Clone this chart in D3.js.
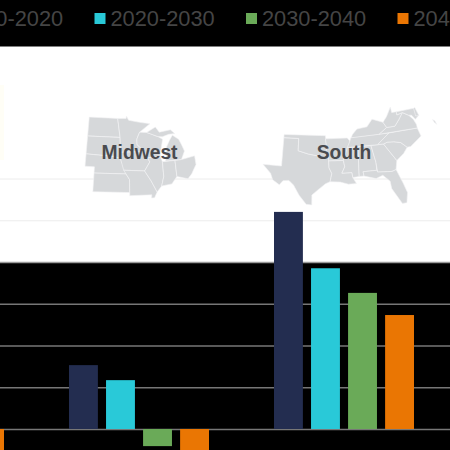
<!DOCTYPE html>
<html><head><meta charset="utf-8">
<script src="https://cdn.jsdelivr.net/npm/d3@7"></script>
<style>html,body{margin:0;padding:0;background:#fff;overflow:hidden}svg{display:block}</style>
</head><body><div id="chart"></div>
<script>
const categories = ["Northeast", "Midwest", "South"];
const seriesNames = ["2010-2020", "2020-2030", "2030-2040", "2040-2050"];
const values2010 = [null, 1.53, 5.2];
const values2020 = [null, 1.17, 3.85];
const values2030 = [null, -0.41, 3.26];
const values2040 = [-0.55, -0.55, 2.73];
const seriesColors = ["#232d50", "#29c9d8", "#6aaa58", "#ea7603"];
const gridTicks = [0, 1, 2, 3, 4, 5, 6];

const midwestStates = [
 [[-104,49],[-97.2,49],[-96.6,45.9],[-104,45.9]],
 [[-104,45.9],[-96.6,45.9],[-96.5,42.5],[-98,42.8],[-104,43]],
 [[-104,43],[-98,42.8],[-96.5,42.5],[-95.3,40],[-102,40],[-102,41],[-104,41]],
 [[-102,40],[-95.3,40],[-94.6,39.1],[-94.6,37],[-102,37]],
 [[-97.2,49],[-95.2,49],[-95.1,49.4],[-94.6,48.7],[-92,48.3],[-89.6,48],[-92.1,46.7],[-92.8,45.6],[-92.8,44.7],[-91.2,43.5],[-96.5,43.5],[-96.6,45.9]],
 [[-96.5,43.5],[-91.2,43.5],[-90.2,41.8],[-91.4,40.4],[-95.8,40.6],[-96.5,42.5]],
 [[-95.8,40.6],[-91.4,40.4],[-90.2,38.8],[-89.1,36.9],[-89.7,36],[-90.3,36],[-90.2,36.5],[-94.6,36.5],[-94.6,39.1]],
 [[-92.1,46.7],[-90.5,46.6],[-88,45.8],[-87,45.3],[-87.8,43],[-87.8,42.5],[-90.6,42.5],[-91.2,43.5],[-92.8,44.7],[-92.8,45.6]],
 [[-90.6,42.5],[-87.8,42.5],[-87.5,41.7],[-87.5,39.3],[-88.1,37.8],[-89.1,36.9],[-90.2,38.8],[-91.4,40.4],[-90.2,41.8]],
 [[-86.8,41.76],[-84.8,41.7],[-83.4,41.7],[-82.5,43],[-82.9,44],[-83.4,45],[-84.7,45.8],[-85.5,45],[-86.3,44],[-86.5,42.8]],
 [[-90.5,46.6],[-88.4,47.4],[-87.6,46.5],[-85,46.7],[-84.1,46],[-85.5,46],[-87,45.7],[-88,45.8]],
 [[-87.5,41.7],[-84.8,41.7],[-84.8,39.1],[-86,38],[-88.1,37.8],[-87.5,39.3]],
 [[-84.8,41.7],[-83.4,41.7],[-80.5,42],[-80.5,40.6],[-81.7,39.2],[-82.6,38.5],[-84.8,39.1]]
];
const southStates = [
 [[-106.6,32],[-103.06,32],[-103,36.5],[-100,36.5],[-100,34.56],[-98,34.1],[-96,33.8],[-94.04,33.6],[-94.04,33],[-94,31.9],[-93.5,31],[-93.85,29.7],[-94.7,29.4],[-96,28.5],[-97.2,27.6],[-97.2,26],[-98.2,26.1],[-99.5,27.5],[-100.6,29.1],[-101.5,29.8],[-102.6,29.7],[-103.2,29],[-104.5,29.7],[-105,30.7]],
 [[-103,37],[-94.6,37],[-94.43,35.4],[-94.48,33.64],[-96,33.8],[-98,34.1],[-100,34.56],[-100,36.5],[-103,36.5]],
 [[-94.6,36.5],[-90.2,36.5],[-89.7,36],[-90.1,35],[-91.2,33],[-94.04,33],[-94.04,33.6],[-94.48,33.64],[-94.43,35.4]],
 [[-94.04,33],[-91.2,33],[-91,32],[-91.6,31],[-89.7,31],[-89.6,30.2],[-89,29.2],[-90.5,29.2],[-92,29.6],[-93.85,29.7],[-93.5,31],[-94,31.9]],
 [[-90.3,35],[-88.2,35],[-88.4,30.3],[-89.6,30.2],[-89.7,31],[-91.6,31],[-91,32],[-91.2,33]],
 [[-88.2,35],[-85.6,35],[-85,32.3],[-85,31],[-87.6,31],[-87.5,30.3],[-88.4,30.3]],
 [[-85.6,35],[-83.1,35],[-81,32.1],[-81.4,30.7],[-82.2,30.5],[-84.9,30.7],[-85,32.3]],
 [[-87.6,31],[-85,31],[-84.9,30.7],[-82.2,30.5],[-81.4,30.7],[-80.5,28.4],[-80,26.8],[-80.4,25.2],[-81.2,25.2],[-82.7,27.8],[-82.8,29],[-84,30.1],[-85.3,29.7],[-87.5,30.3]],
 [[-83.1,35],[-82.3,35.2],[-81,35.1],[-79.7,34.8],[-78.6,33.9],[-79.5,33],[-81,32.1]],
 [[-84.3,35],[-81.7,36.6],[-75.9,36.55],[-75.5,35.2],[-76.6,34.6],[-77.9,33.9],[-78.6,33.9],[-79.7,34.8],[-81,35.1],[-82.3,35.2],[-83.1,35]],
 [[-90.3,35],[-84.3,35],[-81.7,36.6],[-88,36.6],[-89.5,36.5],[-89.7,36]],
 [[-89.4,36.5],[-83.7,36.6],[-82,37.5],[-82.6,38.4],[-84.8,39.1],[-86,38],[-88.1,37.8],[-89.1,37]],
 [[-83.7,36.6],[-75.9,36.55],[-75.9,37.1],[-76.3,38],[-77.1,38.8],[-78.3,39.4],[-79.3,38.4],[-80.3,37.5],[-82,37.5]],
 [[-82,37.5],[-80.3,37.5],[-79.3,38.4],[-78.3,39.4],[-79.5,39.2],[-79.5,39.7],[-80.5,39.7],[-80.6,40.6],[-81.7,39.2],[-82.6,38.4]],
 [[-79.5,39.7],[-75.8,39.7],[-75.05,38.45],[-75.9,37.95],[-76.5,38.7],[-77.1,38.8],[-78.3,39.4],[-79.5,39.2]],
 [[-75.8,39.7],[-75.5,39.8],[-75.05,38.45],[-75.7,38.45]]
];
const southIsland = [[-72.5,37.3],[-72.1,37],[-71.9,36.4],[-72.3,36.8]];

const seriesValues = [values2010, values2020, values2030, values2040];
const W = 450, H = 450;
const svg = d3.select("#chart").append("svg").attr("width", W).attr("height", H);

// page bands
[[0, 46.5], [262.5, H - 262.5]].forEach(([y, h]) =>
  svg.append("rect").attr("x", 0).attr("y", y).attr("width", W).attr("height", h).attr("fill", "#000"));
svg.append("rect").attr("x", 0).attr("y", 85).attr("width", 4).attr("height", 75).attr("fill", "#fffef6");

const y = d3.scaleLinear().domain([0, 6]).range([429, 178.5]);
const x0 = d3.scaleBand().domain(categories).range([-145, 470]);
const x1 = d3.scaleBand().domain(seriesNames).range([9, 149]).paddingInner(0.22).paddingOuter(0);

// gridlines
const gridAxis = d3.axisLeft(y).tickValues(gridTicks).tickSize(W).tickFormat("");
const grid = svg.append("g").attr("transform", `translate(${W},0)`).call(gridAxis);
grid.select(".domain").remove();
grid.selectAll(".tick line")
  .attr("stroke", d => d === 4 ? "#9a9a9a" : d > 4 ? "#ececec" : "#777777")
  .attr("stroke-width", d => d > 4 ? 1 : 1.7);

// maps
function drawMap(states, box, label, extra) {
  const all = states.flat();
  const proj = d3.geoAlbers();
  const pts = all.map(p => proj(p));
  const sx = d3.scaleLinear().domain(d3.extent(pts, p => p[0])).range([box[0], box[2]]);
  const sy = d3.scaleLinear().domain(d3.extent(pts, p => p[1])).range([box[1], box[3]]);
  const line = d3.line().x(p => sx(proj(p)[0])).y(p => sy(proj(p)[1])).curve(d3.curveLinearClosed);
  const g = svg.append("g");
  g.selectAll("path").data(extra ? states.concat([extra]) : states).join("path")
    .attr("d", line).attr("fill", "#d6d8da").attr("stroke", "#f4f4f5").attr("stroke-width", 0.6)
    .attr("stroke-linejoin", "round");
  g.append("text").attr("x", label.x).attr("y", label.y).attr("text-anchor", "middle")
    .attr("font-family", "'Liberation Sans', Arial, sans-serif").attr("font-weight", 700)
    .attr("font-size", 19.3).attr("fill", "#4a4b4f").text(label.text);
}
drawMap(midwestStates, [85, 116, 196, 198], {x: 139.5, y: 158.5, text: "Midwest"});
drawMap(southStates, [263, 107, 421, 205], {x: 344, y: 158.5, text: "South"}, southIsland);

// bars
const rows = seriesNames.flatMap((s, i) =>
  categories.map((c, j) => ({series: s, region: c, value: seriesValues[i][j], color: seriesColors[i]})))
  .filter(d => d.value !== null);
svg.append("g").selectAll("rect").data(rows).join("rect")
  .attr("x", d => x0(d.region) + x1(d.series))
  .attr("width", x1.bandwidth())
  .attr("y", d => Math.min(y(d.value), y(0)))
  .attr("height", d => Math.abs(y(d.value) - y(0)))
  .attr("fill", d => d.color);

// legend
const legendX = d3.scalePoint().domain(seriesNames).range([-57, -57 + 151.5 * 3]);
const legend = svg.append("g").selectAll("g").data(seriesNames).join("g")
  .attr("transform", d => `translate(${legendX(d)},0)`);
legend.append("rect").attr("y", 13).attr("width", 11).attr("height", 11)
  .attr("fill", (d, i) => seriesColors[i]);
legend.append("text").attr("x", 16).attr("y", 26)
  .attr("font-family", "'Liberation Sans', Arial, sans-serif").attr("font-size", 21.8)
  .attr("fill", "#454545").text(d => d);
</script></body></html>
